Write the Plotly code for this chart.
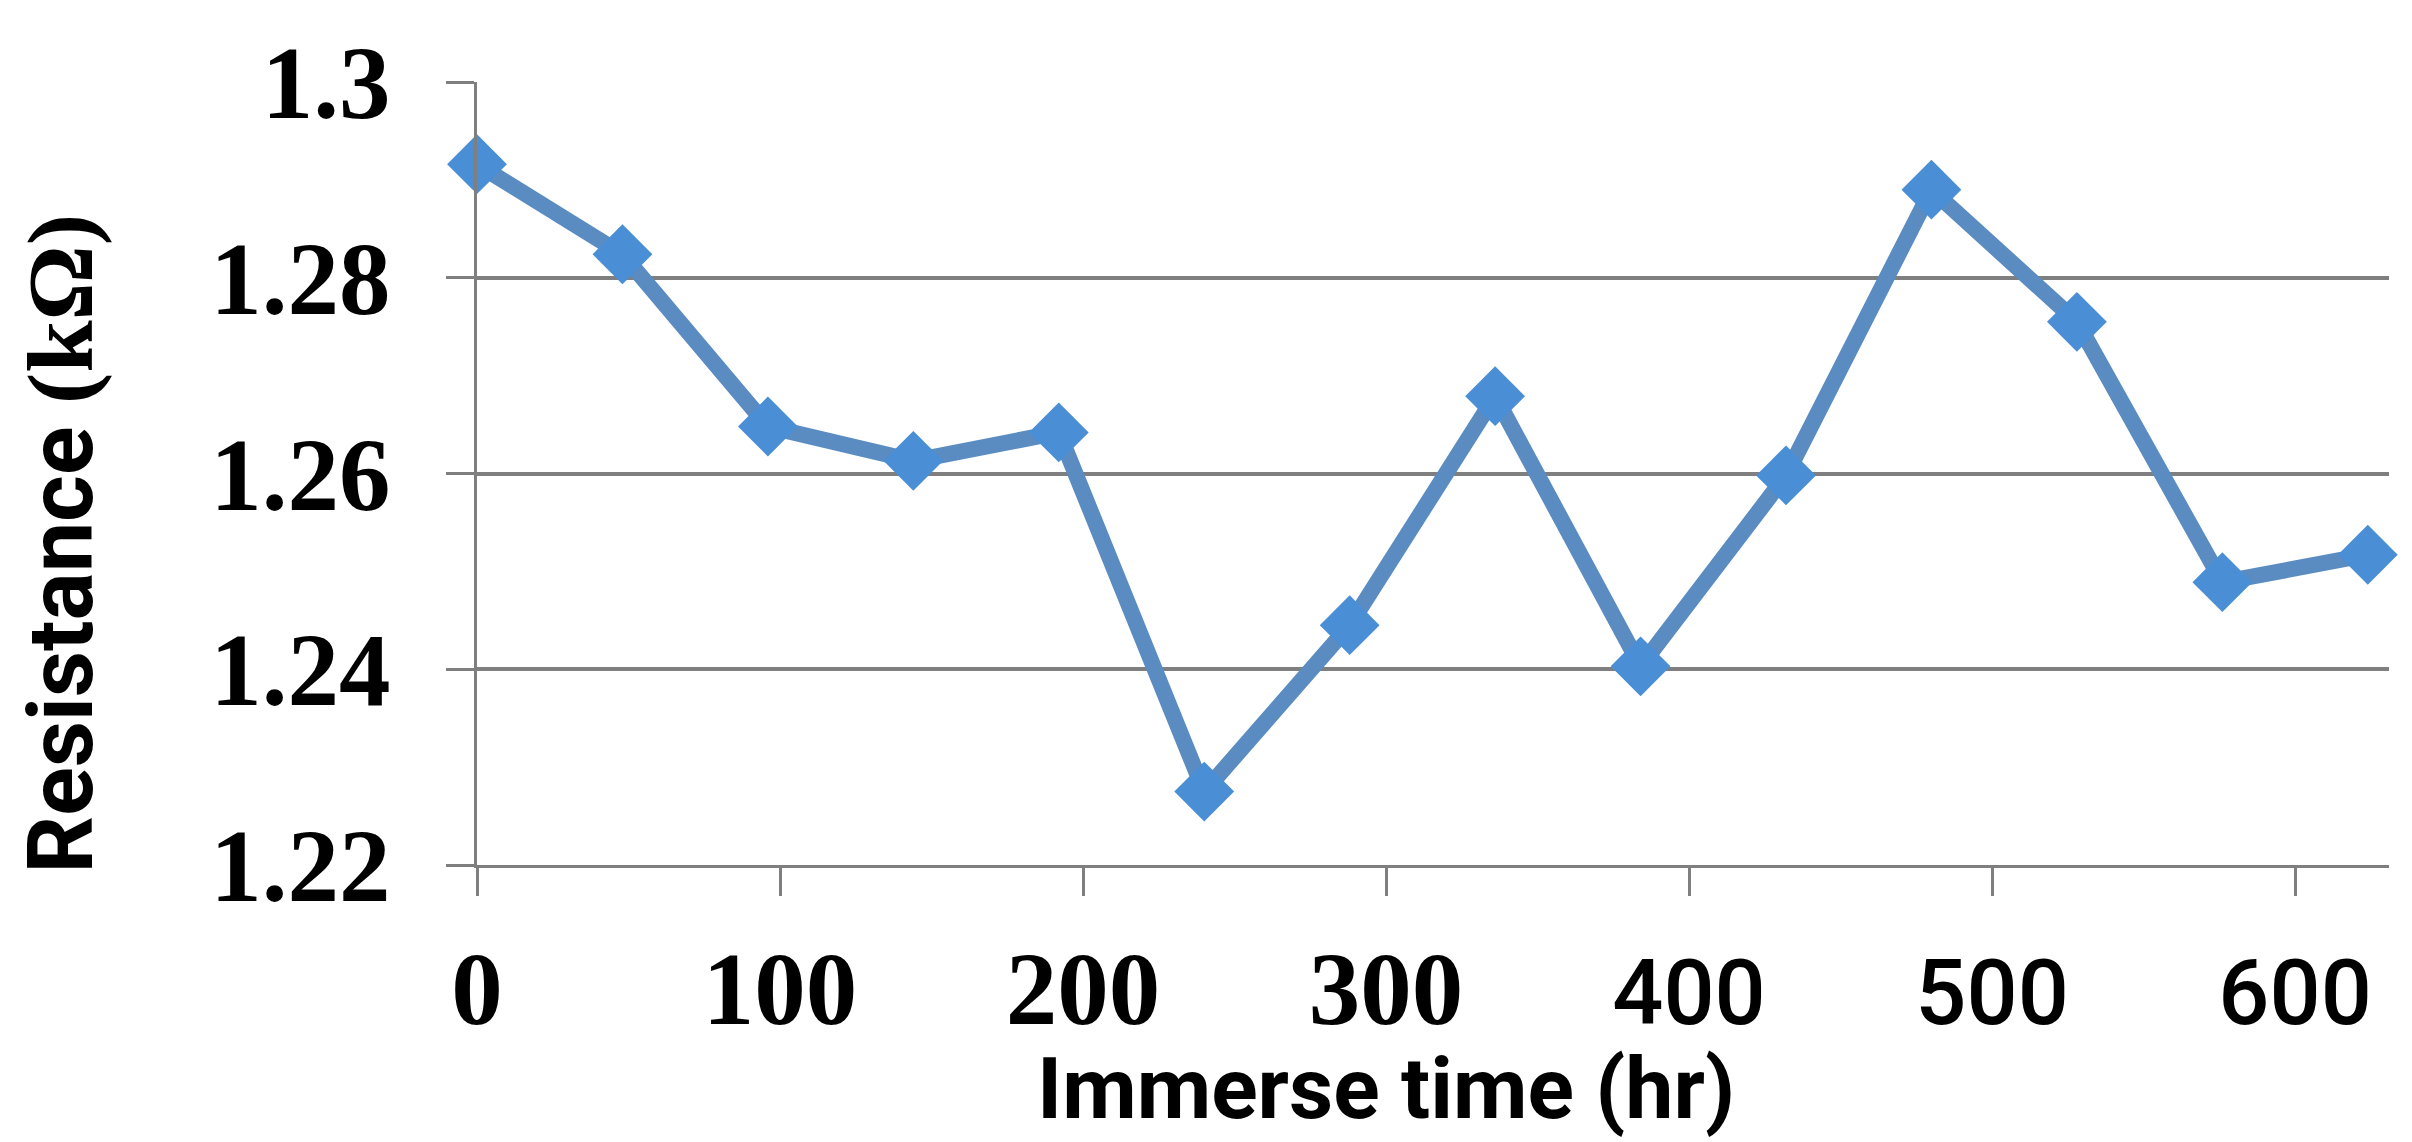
"""Resistance vs. immersion time, single line with diamond markers."""

import plotly.graph_objects as go

# immersion time (hr) and measured resistance (kOhm)
immerse_hr = [0, 48, 96, 144, 192, 240, 288, 336, 384, 432, 480, 528, 576, 624]
resistance_kohm = [1.2916, 1.2824, 1.2648, 1.2613, 1.2642, 1.2275, 1.2445,
                   1.2679, 1.2403, 1.2598, 1.2890, 1.2755, 1.2489, 1.2517]

x_tickvals = [0, 100, 200, 300, 400, 500, 600]
x_ticktext = ["0", "100", "200", "300", "400", "500", "600"]
y_tickvals = [1.22, 1.24, 1.26, 1.28, 1.30]
y_ticktext = ["1.22", "1.24", "1.26", "1.28", "1.3"]

SERIF = "Liberation Serif, Times New Roman, serif"
SANS = "Roboto, Open Sans, sans-serif"

# the last three x labels are set in a sans face in the original figure
x_labels = [
    t if v < 400 else
    f"<span style='font-family:{SANS};font-weight:500;font-size:90px'>{t}</span>"
    for v, t in zip(x_tickvals, x_ticktext)
]

fig = go.Figure()
fig.add_trace(go.Scatter(
    x=immerse_hr, y=resistance_kohm,
    mode="lines+markers",
    line=dict(color="#5A8CC2", width=16),
    marker=dict(symbol="diamond", size=46, color="#4A8ED6"),
    cliponaxis=False,
    showlegend=False,
))

axis_common = dict(
    showline=True, linecolor="#7f7f7f", linewidth=3,
    ticks="outside", tickcolor="#7f7f7f", tickwidth=3, ticklen=28,
    zeroline=False,
    tickfont=dict(family=SERIF, size=103, color="black", weight="bold"),
)

fig.update_xaxes(
    range=[0, 631],
    tickvals=x_tickvals, ticktext=x_labels,
    showgrid=False,
    ticklabelstandoff=4,
    **axis_common,
)
fig.update_yaxes(
    range=[1.22, 1.30],
    tickvals=y_tickvals, ticktext=y_ticktext,
    showgrid=True, gridcolor="#7f7f7f", gridwidth=4,
    ticklabelstandoff=35,
    **axis_common,
)

fig.add_annotation(
    text="Immerse time (hr)",
    xref="paper", yref="paper", x=0.4755, y=0,
    xanchor="center", yanchor="middle", yshift=-223,
    showarrow=False,
    font=dict(family=SANS, size=86, color="black", weight="bold"),
)
fig.add_annotation(
    text=f"Resistance <span style='font-family:{SERIF};font-size:94px'>(kΩ)</span>",
    xref="paper", yref="paper", x=0, y=0.5,
    xanchor="center", yanchor="middle", xshift=-417, yshift=-70,
    textangle=-90,
    showarrow=False,
    font=dict(family=SANS, size=90, color="black", weight="bold"),
)

fig.update_layout(
    width=2412, height=1142,
    paper_bgcolor="white", plot_bgcolor="white",
    margin=dict(l=469, r=31, t=74, b=285),
)

fig.write_html("out.html")
